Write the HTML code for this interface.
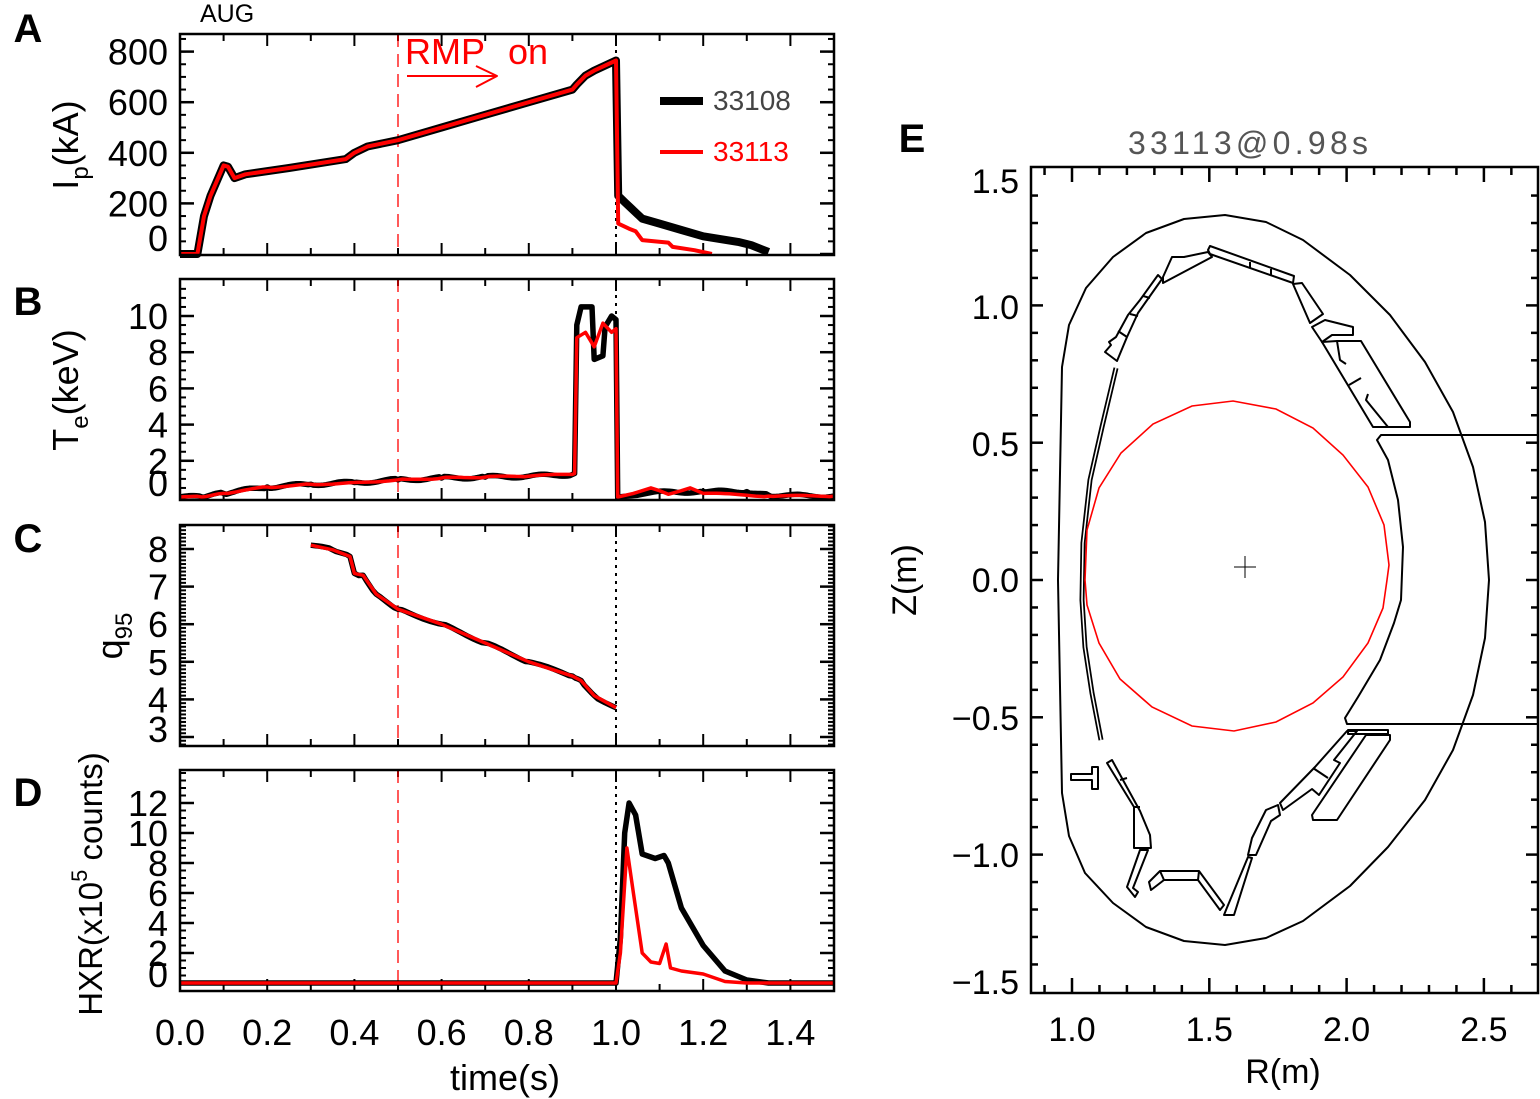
<!DOCTYPE html>
<html><head><meta charset="utf-8">
<style>
html,body{margin:0;padding:0;background:#fff;}
svg{display:block;font-family:"Liberation Sans",sans-serif;}
</style></head>
<body>
<svg id="s" width="1540" height="1099" viewBox="0 0 1540 1099" xmlns="http://www.w3.org/2000/svg">
<rect width="1540" height="1099" fill="#fff"/>
</svg>
<script>
const S=document.getElementById('s');
const NS='http://www.w3.org/2000/svg';
function el(tag,attrs,txt){const e=document.createElementNS(NS,tag);for(const k in attrs)e.setAttribute(k,attrs[k]);if(txt!==undefined)e.textContent=txt;S.appendChild(e);return e;}
function pl(pts,stroke,w,extra){const a={points:pts.map(p=>p[0].toFixed(1)+','+p[1].toFixed(1)).join(' '),fill:'none',stroke:stroke,'stroke-width':w,'stroke-linejoin':'round'};Object.assign(a,extra||{});return el('polyline',a);}
const X=t=>180+436*t;
const panels=[
 {top:34,bot:255,Y:v=>254-v*0.253,maj:[0,200,400,600,800],minStep:50,minR:[0,850]},
 {top:279,bot:500,Y:v=>497-v*18.1,maj:[0,2,4,6,8,10],minStep:0.5,minR:[0,11.5]},
 {top:525,bot:746,Y:v=>549-(v-8)*37.6,maj:[3,4,5,6,7,8],minStep:0.1,minR:[2.8,8.6]},
 {top:770,bot:991,Y:v=>983-v*15,maj:[0,2,4,6,8,10,12],minStep:0.5,minR:[0,14]}
];
function noisy(pts,amp,step){const out=[];for(let i=0;i<pts.length-1;i++){const [t0,v0]=pts[i],[t1,v1]=pts[i+1];const n=Math.max(1,Math.round((t1-t0)/step));for(let k=0;k<n;k++){const f=k/n;out.push([t0+(t1-t0)*f,v0+(v1-v0)*f+(k>0?(Math.sin(i*37+k*12.9)*amp):0)]);}}out.push(pts[pts.length-1]);return out;}
function trace(P,data,color,w){pl(data.map(d=>[X(d[0]),P.Y(d[1])]),color,w);}
panels.forEach((P,i)=>{
 for(let t=0;t<=1.5001;t+=0.1){const x=X(t);const big=Math.round(t*10)%2==0;const L=big?12:7;el('line',{x1:x,y1:P.bot,x2:x,y2:P.bot-L,stroke:'#000','stroke-width':2});el('line',{x1:x,y1:P.top,x2:x,y2:P.top+L,stroke:'#000','stroke-width':2});}
 for(let v=P.minR[0];v<=P.minR[1]+1e-6;v+=P.minStep){const y=P.Y(v);if(y<P.top+1||y>P.bot-1)continue;el('line',{x1:180,y1:y,x2:186,y2:y,stroke:'#000','stroke-width':2});el('line',{x1:834,y1:y,x2:828,y2:y,stroke:'#000','stroke-width':2});}
 P.maj.forEach(v=>{const y=P.Y(v);if(y<P.top||y>P.bot)return;el('line',{x1:180,y1:y,x2:194,y2:y,stroke:'#000','stroke-width':2.5});el('line',{x1:834,y1:y,x2:820,y2:y,stroke:'#000','stroke-width':2.5});
  let ty=y+13; if(y>P.bot-12) ty=P.bot-4;
  el('text',{x:168,y:ty,'font-size':36,'text-anchor':'end'},String(v));});
 el('line',{x1:X(0.5),y1:P.top,x2:X(0.5),y2:P.bot,stroke:'#f00','stroke-width':1.3,'stroke-dasharray':'13,7'});
 el('line',{x1:X(1.0),y1:P.top,x2:X(1.0),y2:P.bot,stroke:'#000','stroke-width':2,'stroke-dasharray':'3,5'});
});
const A=panels[0];
const ipBase=[[0,0],[0.04,0],[0.055,150],[0.07,230],[0.1,350],[0.11,345],[0.125,300],[0.15,315],[0.25,340],[0.38,375],[0.4,400],[0.43,425],[0.5,450],[0.6,500],[0.7,550],[0.8,600],[0.9,650],[0.91,670],[0.93,705],[0.95,725],[1.0,765]];
trace(A,ipBase.concat([[1.005,230],[1.02,205],[1.06,140],[1.1,120],[1.15,95],[1.2,70],[1.28,48],[1.31,35],[1.35,8]]),'#000',8);
trace(A,ipBase.concat([[1.005,120],[1.03,100],[1.045,90],[1.06,55],[1.12,45],[1.13,28],[1.18,15],[1.22,0]]),'#f00',4);
const B=panels[1];
const teBase=[[0,0],[0.05,0],[0.1,0.2],[0.2,0.55],[0.3,0.7],[0.4,0.8],[0.5,0.95],[0.6,1.05],[0.7,1.1],[0.8,1.15],[0.9,1.25],[0.905,1.3]];
trace(B,noisy(teBase,0.08,0.006).concat([[0.91,9.5],[0.92,10.5],[0.945,10.5],[0.95,7.6],[0.97,7.8],[0.975,9.4],[0.99,10],[1.0,9.8],[1.004,0],[1.05,0.1],[1.08,0.25]]).concat(noisy([[1.08,0.25],[1.2,0.3],[1.3,0.3],[1.35,0.1],[1.5,0.05]],0.07,0.006)),'#000',5.5);
trace(B,noisy(teBase,0.04,0.01).concat([[0.91,8.8],[0.93,9.1],[0.95,8.3],[0.97,9.6],[0.99,9.1],[1.0,9.3],[1.004,0],[1.04,0.2],[1.08,0.5],[1.1,0.35],[1.12,0.15],[1.15,0.35],[1.17,0.5],[1.2,0.2]]).concat(noisy([[1.2,0.2],[1.35,0.05],[1.5,0.05]],0.04,0.01)),'#f00',3.5);
const C=panels[2];
const q=[[0.3,8.1],[0.35,7.98],[0.39,7.8],[0.4,7.35],[0.42,7.3],[0.45,6.8],[0.5,6.4],[0.6,6.0],[0.7,5.5],[0.8,5.0],[0.9,4.62],[0.92,4.5],[0.95,4.1],[1.0,3.78]];
trace(C,noisy(q,0.03,0.008),'#000',5.5);
trace(C,q,'#f00',3.5);
const D=panels[3];
trace(D,[[0,0],[1.0,0],[1.01,3],[1.02,10],[1.03,12],[1.045,11.2],[1.06,8.6],[1.09,8.3],[1.11,8.5],[1.12,8],[1.15,5],[1.2,2.5],[1.25,0.8],[1.3,0.2],[1.35,0],[1.5,0]],'#000',5.5);
trace(D,[[0,0],[1.0,0],[1.01,2],[1.025,9],[1.04,6],[1.06,2],[1.08,1.4],[1.1,1.3],[1.115,2.6],[1.125,1],[1.15,0.8],[1.2,0.6],[1.25,0.1],[1.3,0],[1.5,0]],'#f00',3.5);
panels.forEach(P=>el('rect',{x:180,y:P.top,width:654,height:P.bot-P.top,fill:'none',stroke:'#000','stroke-width':2.5}));
[0,0.2,0.4,0.6,0.8,1.0,1.2,1.4].forEach(t=>el('text',{x:X(t),y:1045,'font-size':36,'text-anchor':'middle'},t.toFixed(1)));
el('text',{x:505,y:1090,'font-size':36,'text-anchor':'middle'},'time(s)');
[['A',28,42],['B',28,315],['C',28,552],['D',28,806],['E',912,152]].forEach(l=>el('text',{x:l[1],y:l[2],'font-size':40,'font-weight':'bold','text-anchor':'middle'},l[0]));
el('text',{x:200,y:22,'font-size':25},'AUG');
function ylab(x,y,html,fs){const t=el('text',{x:0,y:0,'font-size':fs||36,'text-anchor':'middle',transform:`translate(${x},${y}) rotate(-90)`});t.innerHTML=html;}
ylab(78,145,'I<tspan font-size="24" dy="10">p</tspan><tspan dy="-10">(kA)</tspan>');
ylab(78,390,'T<tspan font-size="24" dy="10">e</tspan><tspan dy="-10">(keV)</tspan>');
ylab(122,636,'q<tspan font-size="24" dy="10">95</tspan>');
ylab(102,884,'HXR(x10<tspan font-size="22" dy="-15">5</tspan><tspan dy="15"> counts)</tspan>',33);
el('line',{x1:660,y1:101,x2:703,y2:101,stroke:'#000','stroke-width':8});
el('text',{x:713,y:110,'font-size':28,fill:'#444'},'33108');
el('line',{x1:660,y1:152,x2:703,y2:152,stroke:'#f00','stroke-width':4});
el('text',{x:713,y:161,'font-size':28,fill:'#f00'},'33113');
el('text',{x:405,y:64,'font-size':36,fill:'#f00'},'RMP');
el('text',{x:508,y:64,'font-size':36,fill:'#f00'},'on');
pl([[407,76],[497,76]],'#f00',2);pl([[476,66],[497,76],[476,87]],'#f00',2);

const RX=r=>1072+(r-1)*274.6, ZY=z=>580-z*274.6;
const ex0=1031,ex1=1538,ey0=167,ey1=993;
for(let r=0.9;r<=2.7;r+=0.1){const x=RX(r);const big=Math.abs(r*2-Math.round(r*2))<1e-6;const L=big?15:8;el('line',{x1:x,y1:ey1,x2:x,y2:ey1-L,stroke:'#000','stroke-width':2.5});el('line',{x1:x,y1:ey0,x2:x,y2:ey0+L,stroke:'#000','stroke-width':2.5});}
for(let z=-1.4;z<=1.41;z+=0.1){const y=ZY(z);const big=Math.abs(z*2-Math.round(z*2))<1e-6;const L=big?12:7;el('line',{x1:ex0,y1:y,x2:ex0+L,y2:y,stroke:'#000','stroke-width':2.5});el('line',{x1:ex1,y1:y,x2:ex1-L,y2:y,stroke:'#000','stroke-width':2.5});}
[[1.5,193],[1.0,319],[0.5,456],[0.0,592],[-0.5,730],[-1.0,867],[-1.5,994]].forEach(a=>el('text',{x:1019,y:a[1],'font-size':34,'text-anchor':'end'},(a[0]<0?'\u2212':'')+Math.abs(a[0]).toFixed(1)));
[1.0,1.5,2.0,2.5].forEach(r=>el('text',{x:RX(r),y:1041,'font-size':34,'text-anchor':'middle'},r.toFixed(1)));
el('text',{x:1283,y:1083,'font-size':34,'text-anchor':'middle'},'R(m)');
el('text',{x:0,y:0,'font-size':34,'text-anchor':'middle',transform:'translate(916,580) rotate(-90)'},'Z(m)');
el('text',{x:1248,y:154,'font-size':32,'text-anchor':'middle',fill:'#555',textLength:240,lengthAdjust:'spacing'},'33113@0.98s');
pl([[1058,580],[1062,367],[1069,325],[1086,288],[1113,257],[1146,233],[1184,219],[1225,215],[1266,222],[1303,240],[1350,275],[1390,315],[1425,362],[1453,412],[1473,467],[1485,522],[1489,580],[1485,638],[1473,695],[1453,750],[1425,800],[1388,847],[1350,886],[1303,921],[1266,938],[1225,945],[1184,941],[1146,927],[1113,903],[1085,873],[1069,836],[1062,793],[1058,580]],'#000',2);
pl([[1538,435],[1381,435],[1377,440],[1388,460],[1398,500],[1403,547],[1401,600],[1394,623],[1380,660],[1358,697],[1345,718],[1347,724],[1538,724]],'#000',2);
const hfs=[[1116,368],[1102,427],[1090,480],[1083,543],[1082,600],[1085,647],[1092,693],[1101,740]];
pl(hfs,'#000',5,{'stroke-linecap':'butt'});pl(hfs,'#fff',1.5);
el('polygon',{points:[[1233,401],[1276,409],[1313,428],[1343,455],[1368,487],[1384,525],[1389,565],[1387,580],[1383,608],[1368,643],[1343,677],[1313,703],[1276,722],[1234,731],[1192,726],[1152,707],[1120,679],[1099,643],[1087,605],[1085,580],[1087,530],[1099,488],[1121,453],[1153,424],[1192,406]].map(p=>p.join(',')).join(' '),fill:'none',stroke:'#f00','stroke-width':1.6});
pl([[1234,567],[1256,567]],'#000',1);pl([[1245,556],[1245,578]],'#000',1);
function pg(pts){el('polygon',{points:pts.map(p=>p.join(',')).join(' '),fill:'none',stroke:'#000','stroke-width':2,'stroke-linejoin':'round'});}
pg([[1105,352],[1117,361],[1127,337],[1138,313],[1162,279],[1158,275],[1140,300],[1128,315],[1116,337],[1109,342],[1111,345]]);
pl([[1118,331],[1127,337]],'#000',2);pl([[1130,314],[1138,316]],'#000',2);pl([[1143,296],[1150,298]],'#000',2);
pg([[1163,277],[1172,257],[1184,257],[1208,252],[1212,257],[1163,283]]);
pg([[1208,250],[1210,246],[1294,276],[1293,283],[1210,254]]);
pl([[1250,262],[1250,268]],'#000',2);pl([[1271,269],[1271,276]],'#000',2);
pg([[1293,284],[1302,283],[1323,314],[1310,323]]);
pg([[1312,327],[1325,320],[1353,327],[1353,335],[1332,335],[1322,342]]);
pg([[1322,342],[1373,427],[1410,427],[1410,422],[1361,341],[1337,341]]);
pl([[1337,341],[1340,360],[1346,364]],'#000',2);pl([[1349,385],[1361,378]],'#000',2);pl([[1368,394],[1366,400],[1388,427]],'#000',2);
pg([[1348,730],[1388,730],[1388,734],[1348,734]]);
pg([[1366,735],[1390,735],[1390,740],[1337,820],[1313,820],[1312,815]]);
pg([[1280,803],[1315,767],[1347,731],[1357,731],[1334,760],[1340,763],[1319,795],[1312,789],[1283,810]]);
pl([[1313,768],[1328,778]],'#000',2);
pg([[1278,805],[1266,810],[1252,838],[1248,855],[1256,855],[1271,821],[1280,815]]);
pg([[1248,857],[1252,858],[1234,915],[1224,915],[1226,910]]);
pg([[1160,871],[1199,871],[1224,905],[1220,910],[1198,880],[1164,880],[1151,890],[1149,882]]);
pl([[1160,871],[1164,880]],'#000',2);pl([[1199,871],[1198,880]],'#000',2);
pg([[1107,763],[1112,760],[1140,811],[1150,835],[1151,848],[1134,848],[1134,807]]);
pl([[1120,780],[1127,778]],'#000',2);pl([[1134,807],[1140,807]],'#000',2);
pg([[1140,850],[1148,850],[1133,888],[1138,892],[1135,897],[1127,887]]);
pg([[1071,774],[1092,774],[1092,767],[1098,767],[1098,789],[1092,789],[1092,780],[1071,780]]);
el('rect',{x:ex0,y:ey0,width:ex1-ex0,height:ey1-ey0,fill:'none',stroke:'#000','stroke-width':2.5});
</script>
</body></html>
